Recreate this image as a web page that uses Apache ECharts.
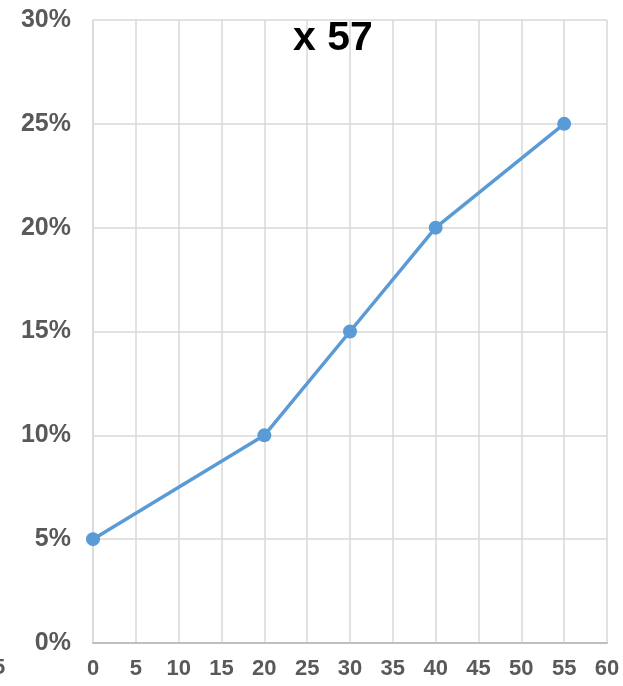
<!DOCTYPE html>
<html><head><meta charset="utf-8">
<script src="https://cdn.jsdelivr.net/npm/echarts@6/dist/echarts.min.js"></script>
<style>html,body{margin:0;padding:0;background:#fff}#c{width:623px;height:686px}</style>
</head><body><div id="c"></div>
<script>
var xValues = [0, 20, 30, 40, 55];
var yValues = [0.05, 0.10, 0.15, 0.20, 0.25];
var titleText = 'x 57';
var chart = echarts.init(document.getElementById('c'));
chart.setOption({
  animation: false,
  backgroundColor: '#fff',
  title: {text: titleText, left: 293, top: 18, padding: 0, textStyle: {fontFamily: 'Liberation Sans', fontWeight: 'bold', fontSize: 41, color: '#000'}},
  grid: {left: 93, right: 16, top: 20, bottom: 43, containLabel: false},
  xAxis: {type: 'value', min: 0, max: 60, interval: 5,
    axisLine: {show: true, lineStyle: {color: '#BFBFBF', width: 2}},
    axisTick: {show: false},
    axisLabel: {margin: 15, fontFamily: 'Liberation Sans', fontWeight: 'bold', fontSize: 22, color: '#595959'},
    splitLine: {show: true, lineStyle: {color: '#D9D9D9', width: 1.5}}},
  yAxis: {type: 'value', min: 0, max: 0.30, interval: 0.05,
    axisLine: {show: true, lineStyle: {color: '#D9D9D9', width: 1.5}},
    axisTick: {show: false},
    axisLabel: {margin: 22, fontFamily: 'Liberation Sans', fontWeight: 'bold', fontSize: 25, color: '#595959',
      formatter: function(v){return Math.round(v*100) + '%';}},
    splitLine: {show: true, lineStyle: {color: '#D9D9D9', width: 1.5}}},
  graphic: [{type: 'text', left: -7, top: 657, style: {text: '5', font: 'bold 22px Liberation Sans', fill: '#595959'}}],
  series: [{type: 'line', data: xValues.map(function(x,i){return [x, yValues[i]];}),
    symbol: 'circle', symbolSize: 14,
    lineStyle: {color: '#5B9BD5', width: 3.5},
    itemStyle: {color: '#5B9BD5'}}]
});
</script></body></html>
